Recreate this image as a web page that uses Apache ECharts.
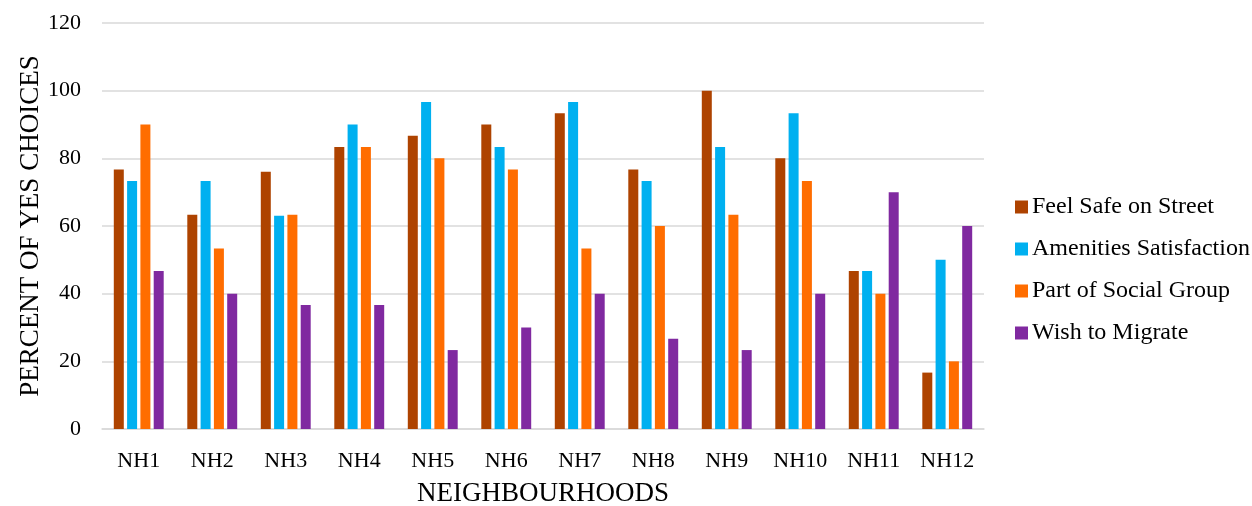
<!DOCTYPE html>
<html>
<head>
<meta charset="utf-8">
<script src="https://cdn.jsdelivr.net/npm/echarts@6/dist/echarts.min.js"></script>
<style>
  html, body { margin: 0; padding: 0; background: #fff; }
  #chart { width: 1252px; height: 506px; }
</style>
</head>
<body>
<div id="chart"></div>
<script>
// Neighbourhood survey: share of "yes" answers per question
const categories = ['NH1', 'NH2', 'NH3', 'NH4', 'NH5', 'NH6', 'NH7', 'NH8', 'NH9', 'NH10', 'NH11', 'NH12'];
const feelSafe     = [76.67, 63.33, 76.0, 83.33, 86.67, 90.0, 93.33, 76.67, 100.0, 80.0, 46.67, 16.67];
const amenities    = [73.33, 73.33, 63.0, 90.0, 96.67, 83.33, 96.67, 73.33, 83.33, 93.33, 46.67, 50.0];
const socialGroup  = [90.0, 53.33, 63.33, 83.33, 80.0, 76.67, 53.33, 60.0, 63.33, 73.33, 40.0, 20.0];
const wishMigrate  = [46.67, 40.0, 36.67, 36.67, 23.33, 30.0, 40.0, 26.67, 23.33, 40.0, 70.0, 60.0];
const seriesNames  = ['Feel Safe on Street', 'Amenities Satisfaction', 'Part of Social Group', 'Wish to Migrate'];
const yTicks = { min: 0, max: 120, interval: 20 };

const font = '"Liberation Serif", "Times New Roman", serif';
const colors = ['#ae4300', '#00b0f0', '#ff6d00', '#8029a0'];
const values = [feelSafe, amenities, socialGroup, wishMigrate];

const chart = echarts.init(document.getElementById('chart'), null, { renderer: 'canvas' });
chart.setOption({
  animation: false,
  color: colors,
  textStyle: { fontFamily: font, color: '#000' },
  grid: { left: 102, width: 882, top: 23, height: 406, outerBoundsMode: 'none' },
  legend: {
    orient: 'vertical',
    left: 1010,
    top: 190,
    itemWidth: 13,
    itemHeight: 13,
    itemGap: 18,
    icon: 'rect',
    textStyle: { fontFamily: font, fontSize: 24, color: '#000', padding: [0, 0, 0, -1] },
    data: seriesNames
  },
  xAxis: {
    type: 'category',
    data: categories,
    name: 'NEIGHBOURHOODS',
    nameLocation: 'middle',
    nameGap: 51,
    nameMoveOverlap: false,
    nameTextStyle: { fontFamily: font, fontSize: 27, color: '#000' },
    axisLine: { lineStyle: { color: '#d9d9d9', width: 1.5 } },
    axisTick: { show: false },
    axisLabel: { fontFamily: font, fontSize: 22, color: '#000', margin: 21 }
  },
  yAxis: {
    type: 'value',
    min: yTicks.min,
    max: yTicks.max,
    interval: yTicks.interval,
    name: 'PERCENT OF YES CHOICES',
    nameLocation: 'middle',
    nameGap: 58,
    nameMoveOverlap: false,
    nameTextStyle: { fontFamily: font, fontSize: 27, color: '#000' },
    axisLine: { show: false },
    axisTick: { show: false },
    axisLabel: { fontFamily: font, fontSize: 22, color: '#000', margin: 21 },
    splitLine: { lineStyle: { color: '#d9d9d9', width: 1.5 } }
  },
  series: seriesNames.map((name, i) => ({
    name: name,
    type: 'bar',
    data: values[i],
    barWidth: 10,
    barGap: '33%',
    itemStyle: { color: colors[i] }
  }))
});
</script>
</body>
</html>
